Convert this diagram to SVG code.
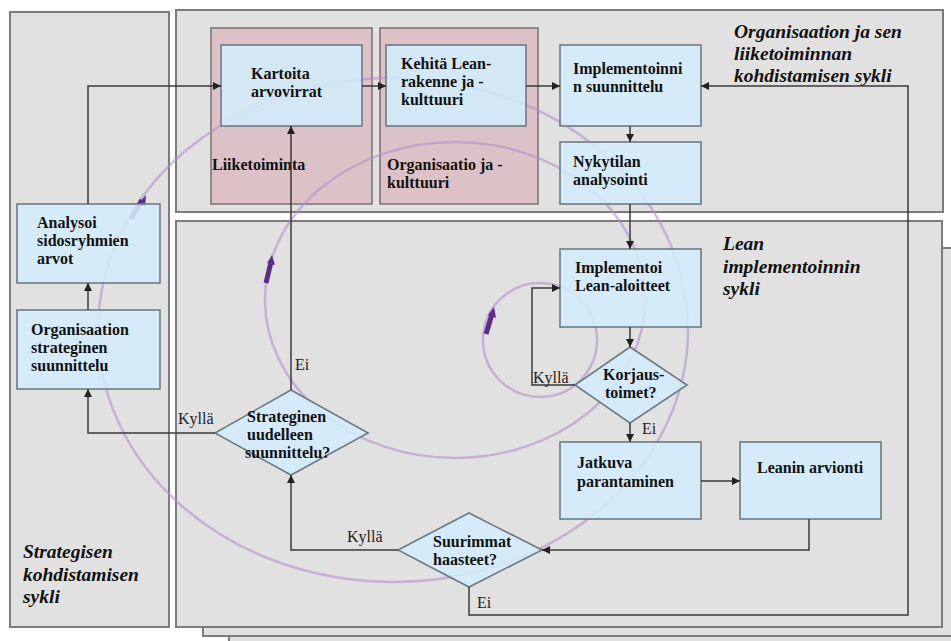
<svg xmlns="http://www.w3.org/2000/svg" width="951" height="641" viewBox="0 0 951 641">
<style>
.panel{fill:#e1e1e1;stroke:#7c7c7c;stroke-width:2}
.pink{fill:#dcc2c6;stroke:#7a7070;stroke-width:1.5}
.box{fill:#d3ecfc;fill-opacity:0.88;stroke:#6f7b84;stroke-width:1.6}
.t{font-family:"Liberation Serif","Times New Roman",serif;font-weight:bold;font-size:16px;fill:#111}
.lbl{font-family:"Liberation Serif","Times New Roman",serif;font-size:16px;fill:#222}
.ttl{font-family:"Liberation Serif","Times New Roman",serif;font-style:italic;font-weight:bold;font-size:19.5px;fill:#111}
.c{fill:none;stroke:#3a3a3a;stroke-width:1.5;marker-end:url(#ah)}
.sp{fill:none;stroke:#b48fcc;stroke-opacity:0.6;stroke-width:2.5}
.spa{fill:none;stroke:#5e2d85;stroke-width:5;stroke-linecap:butt}
</style>
<defs>
<marker id="ah" markerWidth="8" markerHeight="8" refX="8" refY="4" orient="auto" markerUnits="userSpaceOnUse">
<path d="M0,0 L8,4 L0,8 z" fill="#222"/>
</marker>
</defs>
<rect width="951" height="641" fill="#ffffff"/>
<g id="panels">
<rect x="229" y="262" width="740" height="400" class="panel"/>
<rect x="203" y="248" width="770" height="388" class="panel"/>
<rect x="10" y="12" width="159" height="615" class="panel"/>
<rect x="176" y="10" width="767" height="202" class="panel"/>
<rect x="176" y="221" width="766" height="406" class="panel"/>
<rect x="211" y="28" width="161" height="176" class="pink"/>
<rect x="380" y="28" width="158" height="176" class="pink"/>
<text class="t" x="212" y="170">Liiketoiminta</text>
<text class="t" x="387" y="170">Organisaatio ja -</text>
<text class="t" x="387" y="188">kulttuuri</text>
<text class="ttl" x="734" y="38">Organisaation ja sen</text>
<text class="ttl" x="734" y="60">liiketoiminnan</text>
<text class="ttl" x="734" y="82">kohdistamisen sykli</text>
<text class="ttl" x="723" y="250">Lean</text>
<text class="ttl" x="723" y="273">implementoinnin</text>
<text class="ttl" x="723" y="295">sykli</text>
<text class="ttl" x="23" y="558">Strategisen</text>
<text class="ttl" x="23" y="581">kohdistamisen</text>
<text class="ttl" x="23" y="603">sykli</text>
</g>
<g id="spiral">
<ellipse class="sp" cx="393" cy="330" rx="295" ry="252"/>
<ellipse class="sp" cx="455" cy="300" rx="190" ry="158"/>
<circle class="sp" cx="540" cy="340" r="57"/>
<path class="spa" d="M131,219 L142,200"/>
<path d="M138,204 L146,195 L145,207 z" fill="#5e2d85"/>
<path class="spa" d="M266,283 L271,262"/>
<path d="M267,263 L272,255 L275,265 z" fill="#5e2d85"/>
<path class="spa" d="M486,334 L492,314"/>
<path d="M488,315 L494,307 L496,318 z" fill="#5e2d85"/>
</g>
<g id="n-kartoita"><rect class="box" x="221" y="45" width="141" height="81"/><text class="t" x="251" y="79">Kartoita</text><text class="t" x="251" y="97">arvovirrat</text></g>
<g id="n-kehita"><rect class="box" x="386" y="45" width="140" height="81"/><text class="t" x="401" y="69">Kehitä Lean-</text><text class="t" x="401" y="87">rakenne ja -</text><text class="t" x="401" y="105">kulttuuri</text></g>
<g id="n-impl-suunnittelu"><rect class="box" x="560" y="45" width="141" height="81"/><text class="t" x="573" y="74">Implementoinni</text><text class="t" x="573" y="92">n suunnittelu</text></g>
<g id="n-nykytila"><rect class="box" x="560" y="142" width="141" height="62"/><text class="t" x="573" y="167">Nykytilan</text><text class="t" x="573" y="185">analysointi</text></g>
<g id="n-analysoi"><rect class="box" x="17" y="204" width="143" height="79"/><text class="t" x="37" y="228">Analysoi</text><text class="t" x="37" y="246">sidosryhmien</text><text class="t" x="37" y="264">arvot</text></g>
<g id="n-org-strat"><rect class="box" x="17" y="310" width="143" height="79"/><text class="t" x="31" y="335">Organisaation</text><text class="t" x="31" y="353">strateginen</text><text class="t" x="31" y="371">suunnittelu</text></g>
<g id="n-implementoi"><rect class="box" x="560" y="249" width="141" height="78"/><text class="t" x="575" y="273">Implementoi</text><text class="t" x="575" y="291">Lean-aloitteet</text></g>
<g id="n-korjaus"><polygon class="box" points="630,347 687,385 630,423 575,385"/><text class="t" x="603" y="380">Korjaus-</text><text class="t" x="605" y="398">toimet?</text></g>
<g id="n-jatkuva"><rect class="box" x="560" y="442" width="141" height="77"/><text class="t" x="577" y="468">Jatkuva</text><text class="t" x="577" y="487">parantaminen</text></g>
<g id="n-leanin"><rect class="box" x="740" y="442" width="141" height="77"/><text class="t" x="757" y="473">Leanin arvionti</text></g>
<g id="n-suurimmat"><polygon class="box" points="469,513 542,550 469,587 398,550"/><text class="t" x="433" y="547">Suurimmat</text><text class="t" x="433" y="565">haasteet?</text></g>
<g id="n-strateginen"><polygon class="box" points="291,390 368,433 291,475 215,433"/><text class="t" x="247" y="422">Strateginen</text><text class="t" x="247" y="440">uudelleen</text><text class="t" x="245" y="458">suunnittelu?</text></g>
<g id="connectors">
<path class="c" d="M88,204 V86 H221"/>
<path class="c" d="M88,310 V283"/>
<path class="c" d="M215,433 H88 V389"/>
<path class="c" d="M291,390 V126"/>
<path class="c" d="M362,86 H386"/>
<path class="c" d="M526,86 H560"/>
<path class="c" d="M630,126 V142"/>
<path class="c" d="M630,204 V249"/>
<path class="c" d="M630,327 V347"/>
<path class="c" d="M575,385 H532 V288 H560"/>
<path class="c" d="M630,423 V442"/>
<path class="c" d="M701,481 H740"/>
<path class="c" d="M809,519 V550 H542"/>
<path class="c" d="M398,550 H291 V475"/>
<path class="c" d="M469,587 V615 H908 V86 H701"/>
<text class="lbl" x="295" y="370">Ei</text>
<text class="lbl" x="178" y="424">Kyllä</text>
<text class="lbl" x="533" y="383">Kyllä</text>
<text class="lbl" x="642" y="434">Ei</text>
<text class="lbl" x="347" y="542">Kyllä</text>
<text class="lbl" x="477" y="608">Ei</text>
</g>
</svg>
